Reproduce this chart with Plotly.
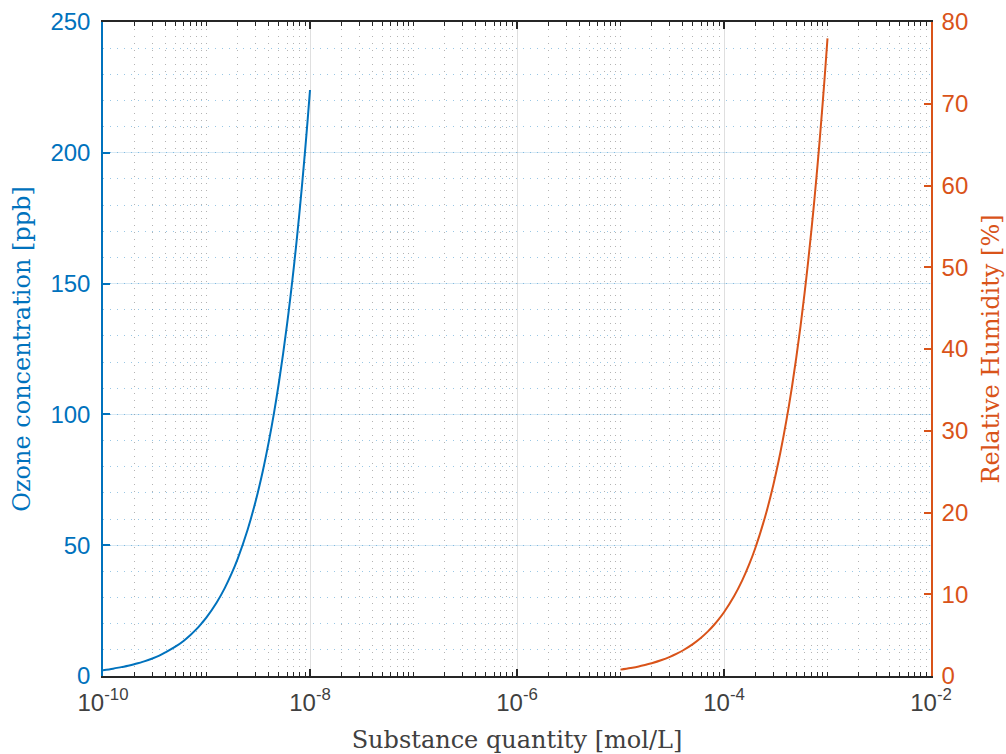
import plotly.graph_objects as go

# Ozone concentration [ppb] vs substance quantity [mol/L]
ozone_x = [1.0e-10, 1.25e-10, 1.5e-10, 1.75e-10, 2.0e-10, 2.5e-10, 3.0e-10, 3.5e-10,
           4.0e-10, 5.0e-10, 6.0e-10, 7.0e-10, 8.0e-10, 9.0e-10,
           1.0e-9, 1.25e-9, 1.5e-9, 1.75e-9, 2.0e-9, 2.5e-9, 3.0e-9, 3.5e-9,
           4.0e-9, 4.5e-9, 5.0e-9, 5.5e-9, 6.0e-9, 6.5e-9, 7.0e-9, 7.5e-9,
           8.0e-9, 8.5e-9, 9.0e-9, 9.5e-9, 1.0e-8]
ozone_y = [2.2, 2.8, 3.4, 3.9, 4.5, 5.6, 6.7, 7.8,
           9.0, 11.2, 13.4, 15.7, 17.9, 20.2,
           22.4, 28.0, 33.6, 39.2, 44.8, 56.0, 67.2, 78.4,
           89.6, 100.8, 112.0, 123.2, 134.4, 145.6, 156.8, 168.0,
           179.2, 190.4, 201.6, 212.8, 224.0]

# Relative humidity [%] vs substance quantity [mol/L]
humidity_x = [1.0e-5, 1.25e-5, 1.5e-5, 1.75e-5, 2.0e-5, 2.5e-5, 3.0e-5, 3.5e-5,
              4.0e-5, 5.0e-5, 6.0e-5, 7.0e-5, 8.0e-5, 9.0e-5,
              1.0e-4, 1.25e-4, 1.5e-4, 1.75e-4, 2.0e-4, 2.5e-4, 3.0e-4, 3.5e-4,
              4.0e-4, 4.5e-4, 5.0e-4, 5.5e-4, 6.0e-4, 6.5e-4, 7.0e-4, 7.5e-4,
              8.0e-4, 8.5e-4, 9.0e-4, 9.5e-4, 1.0e-3]
humidity_y = [0.78, 0.98, 1.17, 1.37, 1.56, 1.95, 2.34, 2.73,
              3.12, 3.9, 4.68, 5.46, 6.24, 7.02,
              7.8, 9.75, 11.7, 13.65, 15.6, 19.5, 23.4, 27.3,
              31.2, 35.1, 39.0, 42.9, 46.8, 50.7, 54.6, 58.5,
              62.4, 66.3, 70.2, 74.1, 78.0]

# Axis tick labels
x_major_exp = [-10, -8, -6, -4, -2]
x_major_vals = [10.0 ** e for e in x_major_exp]
x_major_text = ["10<sup>%d</sup>" % e for e in x_major_exp]
x_minor_vals = [m * 10.0 ** e for e in range(-10, -2) for m in range(1, 10)
                if not (m == 1 and e in x_major_exp)]
y_left_ticks = [0, 50, 100, 150, 200, 250]
y_right_ticks = [0, 10, 20, 30, 40, 50, 60, 70, 80]

BLUE = "#0072BD"
ORANGE = "#D95319"
DARK = "#262626"
TICK_FONT = dict(family="Liberation Sans, Arial, sans-serif", size=24)
TITLE_FONT = "DejaVu Serif, Liberation Serif, serif"
TITLE_SIZE = 24

fig = go.Figure()
fig.add_trace(go.Scatter(x=ozone_x, y=ozone_y, mode="lines", yaxis="y",
                         line=dict(color=BLUE, width=2, shape="spline"),
                         showlegend=False))
fig.add_trace(go.Scatter(x=humidity_x, y=humidity_y, mode="lines", yaxis="y2",
                         line=dict(color=ORANGE, width=2, shape="spline"),
                         showlegend=False))

fig.update_layout(
    width=1006, height=754,
    margin=dict(l=103, r=75, t=22, b=78),
    paper_bgcolor="white", plot_bgcolor="white",
    xaxis=dict(
        type="log", range=[-10, -2],
        tickmode="array", tickvals=x_major_vals, ticktext=x_major_text,
        ticks="inside", ticklen=7, tickwidth=1.5, tickcolor=DARK,
        showline=True, linecolor=DARK, linewidth=1.5, mirror="ticks",
        showgrid=True, gridcolor="rgba(38,38,38,0.15)", gridwidth=1,
        zeroline=False, ticklabelstandoff=4,
        tickfont=dict(color="#404040", **TICK_FONT),
        minor=dict(tickmode="array", tickvals=x_minor_vals,
                   ticks="inside", ticklen=4, tickwidth=1, tickcolor=DARK,
                   showgrid=True, gridcolor="rgba(38,38,38,0.35)",
                   griddash="1px,6px", gridwidth=1),
        title=dict(text="Substance quantity [mol/L]", standoff=17,
                   font=dict(family=TITLE_FONT, size=TITLE_SIZE, color="#404040")),
        automargin=False,
    ),
    yaxis=dict(
        range=[0, 250], tickmode="array", tickvals=y_left_ticks,
        ticks="inside", ticklen=7, tickwidth=1.5, tickcolor=BLUE,
        showline=True, linecolor=BLUE, linewidth=1.5,
        showgrid=True, gridcolor="rgba(0,114,189,0.15)", gridwidth=1,
        zeroline=False, ticklabelstandoff=6,
        tickfont=dict(color=BLUE, **TICK_FONT),
        minor=dict(dtick=10, ticks="", showgrid=True,
                   gridcolor="rgba(0,114,189,0.4)", griddash="1px,6px",
                   gridwidth=1),
        title=dict(text="Ozone concentration [ppb]", standoff=13,
                   font=dict(family=TITLE_FONT, size=TITLE_SIZE, color=BLUE)),
        automargin=False,
    ),
    yaxis2=dict(
        range=[0, 80], overlaying="y", side="right",
        tickmode="array", tickvals=y_right_ticks,
        ticks="inside", ticklen=7, tickwidth=1.5, tickcolor=ORANGE,
        showline=True, linecolor=ORANGE, linewidth=1.5,
        showgrid=False, zeroline=False, ticklabelstandoff=4,
        tickfont=dict(color=ORANGE, **TICK_FONT),
        title=dict(text="Relative Humidity [%]", standoff=15,
                   font=dict(family=TITLE_FONT, size=TITLE_SIZE, color=ORANGE)),
        automargin=False,
    ),
)

fig.write_html("out.html")
